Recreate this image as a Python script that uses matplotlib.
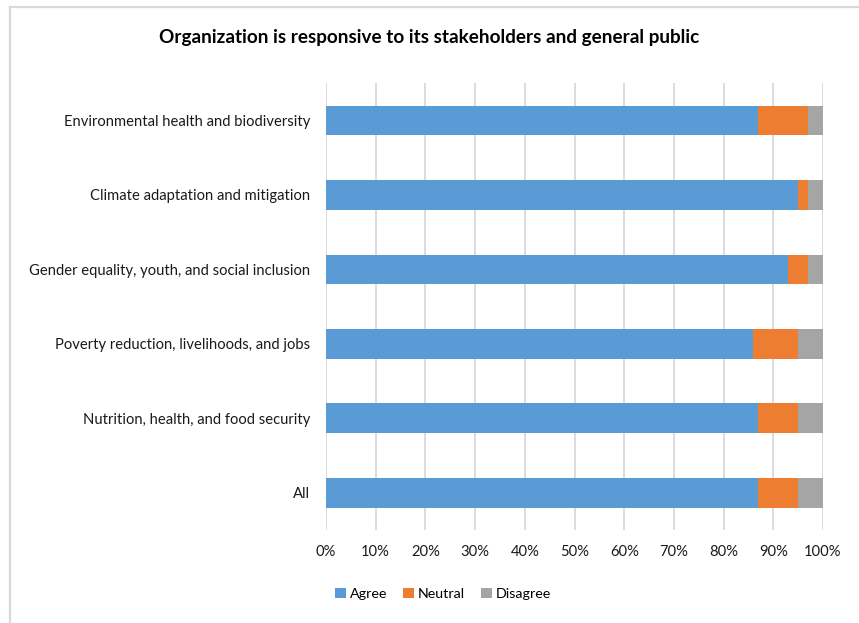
import matplotlib
matplotlib.use("Agg")
import matplotlib.pyplot as plt
from matplotlib.lines import Line2D
from matplotlib.ticker import PercentFormatter, MultipleLocator

plt.rcParams["font.family"] = ["Lato", "DejaVu Sans"]

categories = [
    "All",
    "Nutrition, health, and food security",
    "Poverty reduction, livelihoods, and jobs",
    "Gender equality, youth, and social inclusion",
    "Climate adaptation and mitigation",
    "Environmental health and biodiversity",
]
agree = [87, 87, 86, 93, 95, 87]
neutral = [8, 8, 9, 4, 2, 10]
disagree = [5, 5, 5, 3, 3, 3]

series_names = ["Agree", "Neutral", "Disagree"]
colors = ["#5B9BD5", "#ED7D31", "#A5A5A5"]

W, H = 859, 623
fig = plt.figure(figsize=(W / 100, H / 100), dpi=100)

# chart frame (top and left edges)
fig.add_artist(Line2D([9.5 / W, 1.0], [1 - 6.5 / H, 1 - 6.5 / H],
                      color="#D9D9D9", lw=1.6, transform=fig.transFigure))
fig.add_artist(Line2D([9.5 / W, 9.5 / W], [0, 1 - 6.5 / H],
                      color="#D9D9D9", lw=1.6, transform=fig.transFigure))

left, right, top, bottom = 326, 823, 83.3, 530
ax = fig.add_axes([left / W, 1 - bottom / H, (right - left) / W, (bottom - top) / H])

y = list(range(len(categories)))
starts_n = [a for a in agree]
starts_d = [a + n for a, n in zip(agree, neutral)]
ax.barh(y, agree, height=0.4, color=colors[0], label=series_names[0], zorder=3)
ax.barh(y, neutral, left=starts_n, height=0.4, color=colors[1], label=series_names[1], zorder=3)
ax.barh(y, disagree, left=starts_d, height=0.4, color=colors[2], label=series_names[2], zorder=3)

ax.set_xlim(0, 100)
ax.set_ylim(-0.5, len(categories) - 0.5)
ax.xaxis.set_major_locator(MultipleLocator(10))
ax.xaxis.set_major_formatter(PercentFormatter(decimals=0))
ax.grid(axis="x", color="#D9D9D9", lw=1.3, zorder=0)
ax.set_yticks(y)
ax.set_yticklabels(categories)
for s in ax.spines.values():
    s.set_visible(False)
ax.tick_params(axis="both", length=0, labelsize=10.6, colors="#000000")
ax.tick_params(axis="x", pad=11)
ax.tick_params(axis="y", pad=11.5)
for t in ax.get_xticklabels() + ax.get_yticklabels():
    t.set_color("#1a1a1a")

fig.text(0.5, 1 - 38 / H, "Organization is responsive to its stakeholders and general public",
         ha="center", va="center", fontsize=13.6, fontweight="bold", color="#000000")

fig.legend(loc="center", bbox_to_anchor=(443 / W, 1 - 594 / H), ncol=3, frameon=False,
           fontsize=10.3, handlelength=0.75, handleheight=0.75, handletextpad=0.3,
           columnspacing=1.1)

fig.savefig("out.png", dpi=100)
